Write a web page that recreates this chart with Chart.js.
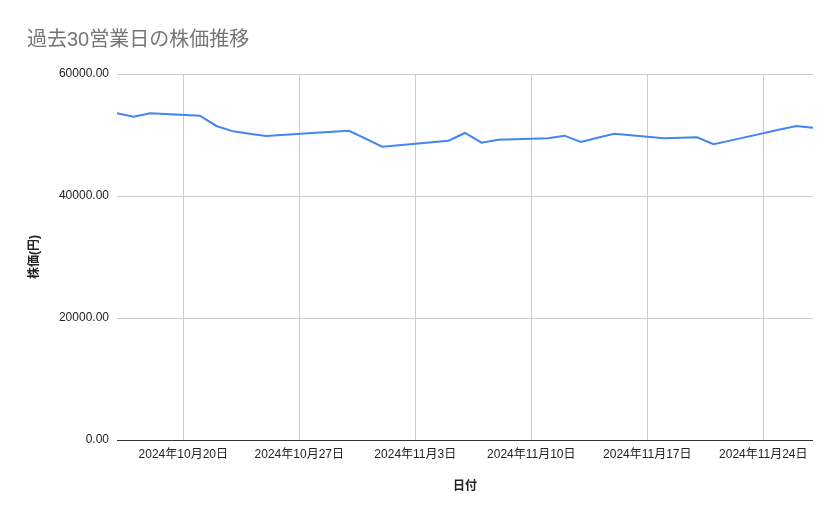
<!DOCTYPE html>
<html>
<head>
<meta charset="utf-8">
<script src="https://cdn.jsdelivr.net/npm/chart.js@4/dist/chart.umd.min.js"></script>
<style>
  body { margin: 0; background: #fff; }
  #wrap { width: 839px; height: 519px; position: relative; }
</style>
</head>
<body>
<div id="wrap"><canvas id="myChart"></canvas></div>
<script>
// 30 business days (Nov 4 is a holiday in Japan)
const dates = [
  '2024-10-16', '2024-10-17', '2024-10-18', '2024-10-21', '2024-10-22',
  '2024-10-23', '2024-10-24', '2024-10-25', '2024-10-28', '2024-10-29',
  '2024-10-30', '2024-10-31', '2024-11-01', '2024-11-05', '2024-11-06',
  '2024-11-07', '2024-11-08', '2024-11-11', '2024-11-12', '2024-11-13',
  '2024-11-14', '2024-11-15', '2024-11-18', '2024-11-19', '2024-11-20',
  '2024-11-21', '2024-11-22', '2024-11-25', '2024-11-26', '2024-11-27'
];
const prices = [
  53560, 53000, 53560, 53160, 51480,
  50600, 50210, 49840, 50360, 50540,
  50700, 49390, 48080, 49070, 50330,
  48740, 49230, 49460, 49890, 48850,
  49560, 50200, 49460, 49540, 49620,
  48480, 49080, 50890, 51480, 51200
];
const tickDates = ['2024-10-20', '2024-10-27', '2024-11-03', '2024-11-10', '2024-11-17', '2024-11-24'];
const yTicks = [0, 20000, 40000, 60000];

const font = "'Liberation Sans', Arial, 'Noto Sans CJK JP', sans-serif";

function toDay(s) {
  const p = s.split('-').map(Number);
  return Date.UTC(p[0], p[1] - 1, p[2]) / 86400000;
}
function dayLabel(v) {
  const d = new Date(v * 86400000);
  return d.getUTCFullYear() + '年' + (d.getUTCMonth() + 1) + '月' + d.getUTCDate() + '日';
}

const points = dates.map((d, i) => ({ x: toDay(d), y: prices[i] }));

let ctx = document.getElementById('myChart').getContext('2d');
let myChart = new Chart(ctx, {
  type: 'line',
  data: {
    datasets: [{
      label: '株価',
      data: points,
      borderColor: '#4285f4',
      borderWidth: 2,
      pointRadius: 0,
      tension: 0,
      fill: false
    }]
  },
  options: {
    responsive: true,
    maintainAspectRatio: false,
    animation: false,
    layout: { padding: { left: 27, right: 26, top: 0, bottom: 0 } },
    plugins: {
      legend: { display: false },
      tooltip: { enabled: false },
      title: {
        display: true,
        text: '過去30営業日の株価推移',
        align: 'start',
        color: '#757575',
        font: { family: font, size: 20, weight: 'normal' },
        padding: { top: 28, bottom: 22 }
      }
    },
    scales: {
      x: {
        type: 'linear',
        min: toDay(dates[0]),
        max: toDay(dates[dates.length - 1]),
        afterBuildTicks: function(scale) {
          scale.ticks = tickDates.map(d => ({ value: toDay(d) }));
        },
        afterFit: function(scale) { scale.height = 79; },
        ticks: {
          autoSkip: false,
          maxRotation: 0,
          padding: 7,
          color: '#222',
          font: { family: font, size: 12 },
          callback: function(v) { return dayLabel(v); }
        },
        grid: { color: '#cccccc', drawTicks: false },
        border: { display: false },
        title: {
          display: true,
          text: '日付',
          color: '#222',
          font: { family: font, size: 12, weight: 'bold' },
          padding: { top: 0, bottom: 25 }
        }
      },
      y: {
        min: 0,
        max: 60000,
        afterBuildTicks: function(scale) {
          scale.ticks = yTicks.map(v => ({ value: v }));
        },
        afterFit: function(scale) { scale.width = 90; },
        ticks: {
          padding: 8,
          color: '#222',
          font: { family: font, size: 12 },
          callback: function(v) { return Number(v).toFixed(2); }
        },
        grid: {
          drawTicks: false,
          color: function(c) { return c.tick && c.tick.value === 0 ? '#333333' : '#cccccc'; }
        },
        border: { display: false },
        title: {
          display: true,
          text: '株価(円)',
          color: '#222',
          font: { family: font, size: 12, weight: 'bold' },
          padding: { top: 0, bottom: 0 }
        }
      }
    }
  }
});
</script>
</body>
</html>
